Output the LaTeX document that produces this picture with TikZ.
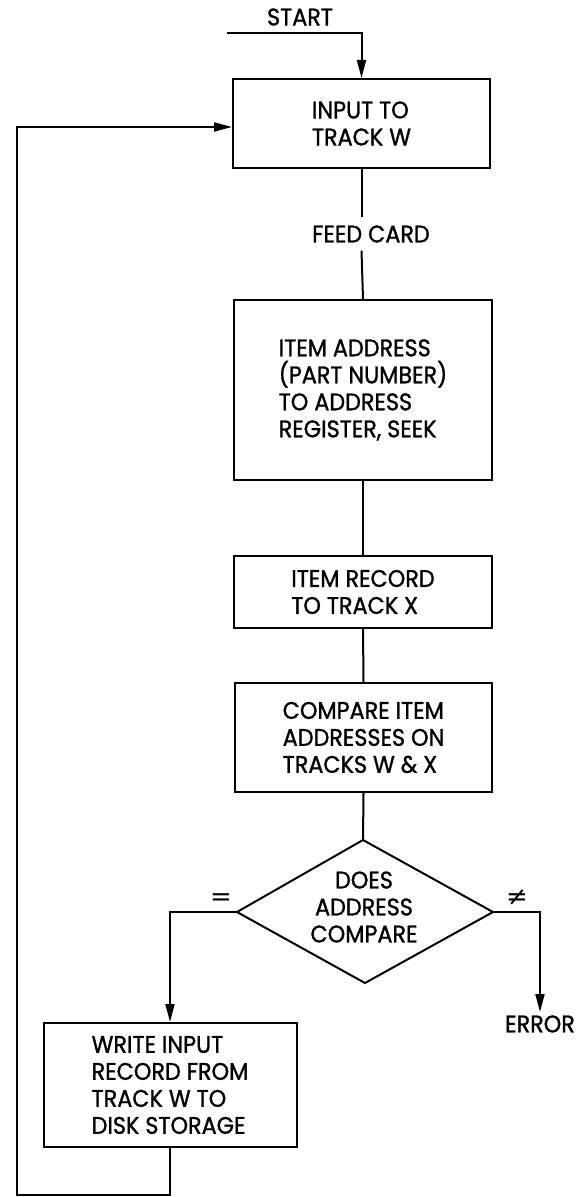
\documentclass[tikz,border=0pt]{standalone}
\usepackage{fontspec}
\setmainfont[FakeStretch=0.93,FakeBold=1.2]{Poppins}
\newfontfamily\symfont{DejaVu Sans}
\usetikzlibrary{arrows.meta}
\begin{document}
\begin{tikzpicture}[x=0.5pt,y=-0.5pt,
  txt/.style={font=\fontsize{12}{13.5}\selectfont},
  box/.style={txt,draw,line width=1pt,inner sep=0pt,align=left},
  ln/.style={line width=1pt},
  arr/.style={ln,-{Triangle[length=9pt,width=4.5pt]}},
  sym/.style={inner sep=0pt,font=\symfont\fontsize{13}{13}\selectfont}]
\useasboundingbox (0,0) rectangle (581,1197);
% nodes
\node[txt,inner sep=0pt] (start) at (300,17) {START};
\coordinate (s0) at (227,33);
\node[box,minimum width=128.5pt,minimum height=44.5pt] (b1) at (361.5,123.5) {INPUT TO\\TRACK W};
\node[txt,inner sep=3.8pt] (feed) at (371,234) {FEED CARD};
\node[box,minimum width=129pt,minimum height=90pt] (b2) at (363,390) {ITEM ADDRESS\\(PART NUMBER)\\TO ADDRESS\\REGISTER, SEEK};
\node[box,minimum width=129pt,minimum height=36pt] (b3) at (363,592) {ITEM RECORD\\TO TRACK X};
\node[box,minimum width=128.5pt,minimum height=54.5pt] (b4) at (363.5,737.5) {COMPARE ITEM\\ADDRESSES ON\\TRACKS W \& X};
\coordinate (dT) at (363,840);
\coordinate (dB) at (365,983);
\coordinate (dL) at (237,912);
\coordinate (dR) at (493,912);
\draw[ln] (dT) -- (dR) -- (dB) -- (dL) -- cycle;
\node[txt,align=center,inner sep=0pt] (d) at (364,907) {DOES\\ADDRESS\\COMPARE};
\node[sym] (eq) at (221,900) {=};
\node[sym] (ne) at (517,898) {≠};
\node[box,minimum width=126.5pt,minimum height=62pt] (b5) at (170,1085) {WRITE INPUT\\RECORD FROM\\TRACK W TO\\DISK STORAGE};
\node[txt,anchor=north,inner sep=1.5pt] (err) at (540,1012) {ERROR};
\coordinate (fbA) at (170,1195);
\coordinate (fbB) at (17,1195);
\coordinate (fbC) at (17,127);
% connectors
\draw[arr] (s0) -| (b1.north);
\draw[ln] (b1.south) -- (b1.south |- feed.north);
\draw[ln] (b1.south |- feed.south) -- (b2.north);
\draw[ln] (b2.south) -- (b3.north);
\draw[ln] (b3.south) -- (b4.north);
\draw[ln] (b4.south) -- (dT);
\draw[arr] (dL) -| (b5.north);
\draw[arr] (dR) -| (err.north);
\draw[arr] (b5.south) -- (fbA) -- (fbB) -- (fbC) -- (fbC -| b1.west);
\end{tikzpicture}
\end{document}
